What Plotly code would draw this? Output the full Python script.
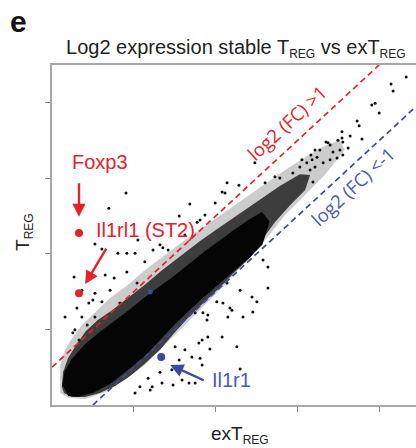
import plotly.graph_objects as go

# ---------------- data (log2 expression, exTreg on x, Treg on y) ----------------
# solid core of the gene cloud (outline)
core_x = [2.27, 2.32, 2.49, 2.81, 3.17, 3.54, 3.91, 4.27, 4.64, 5.01, 5.37, 5.74, 6.11, 6.47, 6.84,
          7.13, 7.30, 7.13, 6.84, 6.47, 6.11, 5.74, 5.37, 5.01, 4.64, 4.27, 3.83, 3.42, 3.00, 2.64, 2.39]
core_y = [2.50, 2.87, 3.19, 3.59, 3.91, 4.20, 4.51, 4.83, 5.12, 5.41, 5.73, 6.05, 6.34, 6.63, 6.90,
          7.08, 6.85, 6.26, 5.94, 5.60, 5.26, 4.91, 4.54, 4.17, 3.75, 3.32, 2.93, 2.58, 2.34, 2.24, 2.26]

# dense speckled halo of the cloud (outline)
halo_x = [2.24, 2.27, 2.39, 2.59, 2.83, 3.12, 3.47, 3.86, 4.27, 4.69, 5.13, 5.62, 6.11, 6.60, 7.09,
          7.57, 8.06, 8.31, 8.19, 7.82, 7.45, 7.13, 6.84, 6.47, 6.11, 5.74, 5.37, 5.01, 4.64, 4.27,
          3.91, 3.54, 3.17, 2.81, 2.49, 2.29]
halo_y = [2.48, 2.87, 3.24, 3.59, 3.96, 4.25, 4.51, 4.83, 5.18, 5.57, 5.94, 6.34, 6.71, 7.08, 7.45,
          7.80, 8.11, 8.09, 7.69, 7.29, 6.84, 6.37, 5.89, 5.52, 5.12, 4.75, 4.36, 3.93, 3.46, 3.09,
          2.77, 2.50, 2.32, 2.21, 2.21, 2.32]

# sparse outer fringe of the cloud (outline)
fringe_x = [2.20, 2.20, 2.32, 2.49, 2.73, 3.05, 3.42, 3.86, 4.27, 4.76, 5.25, 5.74, 6.23, 6.72, 7.21,
            7.70, 8.19, 8.67, 9.04, 9.16, 8.67, 8.19, 7.70, 7.21, 6.72, 6.23, 5.74, 5.25, 4.76, 4.27,
            3.78, 3.30, 2.81, 2.39, 2.20]
fringe_y = [2.53, 3.06, 3.46, 3.77, 4.12, 4.46, 4.83, 5.18, 5.57, 5.97, 6.37, 6.74, 7.11, 7.48, 7.85,
            8.22, 8.56, 8.86, 9.01, 8.75, 8.09, 7.56, 7.03, 6.37, 5.79, 5.18, 4.65, 4.12, 3.59, 3.06,
            2.66, 2.34, 2.16, 2.19, 2.32]

# individual scattered genes
gene_x = [3.81, 3.39, 5.37, 5.11, 3.05, 3.22, 3.61, 3.83, 4.03, 4.47, 4.64, 4.84, 4.10, 2.54, 2.90,
          3.30, 3.52, 2.73, 3.05, 3.22, 2.90, 2.61, 2.73, 3.05, 2.86, 2.56, 2.66, 3.83, 4.08, 2.32,
          5.62, 5.74, 5.55, 6.23, 6.28, 6.57, 5.99, 6.16, 6.96, 4.71, 3.00, 3.66, 2.51, 3.42, 4.27,
          5.25,
          4.69, 4.93, 5.35, 5.50, 4.03, 4.45, 5.11, 5.25, 5.42, 5.01, 5.59, 6.89, 6.67, 6.35, 6.30,
          6.18, 6.03, 5.81, 5.69, 5.79, 6.52, 6.16, 5.81, 5.86, 5.67, 5.67, 6.60, 5.62, 4.96, 5.18,
          4.15, 4.35, 7.28, 7.01, 6.91, 6.40, 6.60, 6.28, 5.50, 7.16, 7.28, 4.40, 4.64,
          10.66, 10.29, 10.34, 9.90, 9.82, 10.00, 9.46, 9.51, 9.09, 9.09, 8.99, 9.11, 9.58, 9.24,
          8.75, 8.70, 8.87, 8.97, 9.11, 8.55, 8.48, 8.36, 8.43, 8.63, 8.80, 8.23, 8.11, 8.06, 8.31,
          7.89, 8.43, 7.45, 7.57, 8.38, 8.33, 9.29, 9.04, 8.80, 7.21]
gene_y = [7.61, 7.21, 7.32, 7.00, 6.26, 6.13, 6.02, 6.02, 6.02, 6.10, 6.24, 6.10, 6.37, 5.39, 5.39,
          5.44, 5.36, 5.04, 4.96, 4.73, 4.70, 4.57, 4.33, 4.33, 4.12, 3.99, 3.72, 5.52, 5.23, 4.33,
          6.90, 7.03, 6.84, 7.61, 7.88, 7.82, 7.35, 7.64, 8.41, 6.16, 4.78, 4.70, 3.91, 5.04, 5.79,
          6.50,
          2.58, 2.93, 2.58, 2.58, 2.32, 2.48, 3.19, 3.46, 3.27, 3.54, 3.64, 4.86, 4.33, 4.57, 4.33,
          4.70, 4.73, 4.38, 4.44, 4.25, 3.54, 3.80, 3.80, 3.48, 3.72, 3.06, 2.95, 3.24, 2.53, 2.66,
          2.48, 2.71, 5.10, 4.73, 4.46, 4.51, 5.04, 5.23, 4.44, 5.84, 5.65, 2.40, 2.87,
          10.68, 10.50, 10.31, 9.99, 9.94, 9.73, 9.52, 9.39, 9.23, 9.07, 9.01, 8.96, 9.04, 8.80,
          8.94, 8.96, 8.70, 8.54, 8.62, 8.75, 8.56, 8.49, 8.30, 8.41, 8.49, 8.41, 8.49, 8.30, 8.22,
          8.14, 8.75, 8.04, 8.01, 7.90, 8.62, 9.12, 8.75, 8.88, 7.88]

# highlighted genes
hl_names = ["Foxp3", "Il1rl1 (ST2)", "Il1r1"]
hl_x = [2.66, 2.66, 4.67]
hl_y = [6.55, 4.96, 3.27]
extra_blue_x = [4.40]
extra_blue_y = [4.99]

# fold-change threshold lines: log2(FC) = +1 and -1
up_x, up_y = [2.0, 10.0], [3.0, 11.0]
dn_x, dn_y = [3.0, 10.9], [2.0, 9.9]

tick_vals = [4, 6, 8, 10]

RED = "#e5222a"
BLUE = "#3b4aa0"
BLUE_TXT = "#4b5bab"

fig = go.Figure()
fig.add_trace(go.Scatter(x=fringe_x, y=fringe_y, mode="lines", fill="toself",
                         fillcolor="rgba(0,0,0,0.2)", line=dict(width=0), hoverinfo="skip"))
fig.add_trace(go.Scatter(x=halo_x, y=halo_y, mode="lines", fill="toself",
                         fillcolor="rgba(0,0,0,0.7)", line=dict(width=0), hoverinfo="skip"))
fig.add_trace(go.Scatter(x=core_x, y=core_y, mode="lines", fill="toself",
                         fillcolor="#050505", line=dict(width=1.5, color="#050505"), hoverinfo="skip"))
fig.add_trace(go.Scatter(x=gene_x, y=gene_y, mode="markers",
                         marker=dict(size=3, color="#111111"), hoverinfo="skip"))
fig.add_trace(go.Scatter(x=up_x, y=up_y, mode="lines",
                         line=dict(color=RED, width=1.7, dash="6px,4px")))
fig.add_trace(go.Scatter(x=dn_x, y=dn_y, mode="lines",
                         line=dict(color=BLUE, width=1.7, dash="6px,4px")))
fig.add_trace(go.Scatter(x=extra_blue_x, y=extra_blue_y, mode="markers",
                         marker=dict(size=5, color=BLUE)))
fig.add_trace(go.Scatter(x=hl_x, y=hl_y, mode="markers",
                         marker=dict(size=8, color=[RED, RED, BLUE])))

ann = []
# arrows (text-less annotations pointing at highlighted genes)
ann.append(dict(x=hl_x[0], y=6.98, ax=0, ay=-35, text="", showarrow=True,
                arrowhead=2, arrowsize=1.1, arrowwidth=2.4, arrowcolor=RED))
ann.append(dict(x=2.81, y=5.20, ax=22, ay=-37, text="", showarrow=True,
                arrowhead=2, arrowsize=1.1, arrowwidth=2.4, arrowcolor=RED))
ann.append(dict(x=4.89, y=3.06, ax=35, ay=16, text="", showarrow=True,
                arrowhead=2, arrowsize=1.1, arrowwidth=2.4, arrowcolor=BLUE))
# gene labels
lab_font = dict(family="Liberation Sans, Arial", size=20)
ann.append(dict(x=3.17, y=8.43, text=hl_names[0], showarrow=False, font=dict(lab_font, color=RED)))
ann.append(dict(x=4.29, y=6.63, text=hl_names[1], showarrow=False, font=dict(lab_font, color=RED)))
ann.append(dict(x=6.38, y=2.66, text=hl_names[2], showarrow=False, font=dict(lab_font, color=BLUE_TXT)))
# threshold labels
fc_font = dict(family="Open Sans, Noto Sans", size=18.5)
ann.append(dict(x=7.74, y=9.48, text="log2 (FC) >1", showarrow=False, textangle=-42.7,
                font=dict(fc_font, color=RED)))
ann.append(dict(x=9.34, y=7.79, text="log2 (FC) <-1", showarrow=False, textangle=-42.7,
                font=dict(fc_font, color=BLUE_TXT)))
# axis titles
ax_font = dict(family="Liberation Sans, Arial", size=19, color="#222222")
ann.append(dict(xref="paper", yref="paper", x=0.516, y=-0.088, xanchor="center", yanchor="middle",
                showarrow=False, text='exT<sub><span style="font-size:12px">REG</span></sub>', font=ax_font))
ann.append(dict(xref="paper", yref="paper", x=-0.077, y=0.509, xanchor="center", yanchor="middle",
                showarrow=False, textangle=-90,
                text='T<sub><span style="font-size:12px">REG</span></sub>', font=ax_font))
# panel letter
ann.append(dict(xref="paper", yref="paper", x=-0.093, y=1.129, xanchor="center", yanchor="middle",
                showarrow=False, text="<b>e</b>",
                font=dict(family="Liberation Sans, Arial", size=30, color="#111111")))

fig.update_layout(
    width=416, height=448,
    margin=dict(l=52, r=0, t=65, b=43),
    paper_bgcolor="white", plot_bgcolor="white",
    showlegend=False,
    title=dict(text='Log2 expression stable T<sub><span style="font-size:12px">REG</span></sub> vs exT<sub><span style="font-size:12px">REG</span></sub>',
               x=0.505, xref="paper", xanchor="center", y=0.895, yref="container", yanchor="middle",
               font=dict(family="Liberation Sans, Arial", size=20, color="#222222")),
    annotations=ann,
    xaxis=dict(range=[2.0, 10.9], showgrid=False, zeroline=False, showline=True, mirror=True,
               linecolor="#a6a6a6", linewidth=1.5, ticks="outside", ticklen=5, tickwidth=1.2,
               tickcolor="#8a8a8a", tickvals=tick_vals, showticklabels=False),
    yaxis=dict(range=[2.0, 11.0], showgrid=False, zeroline=False, showline=True,
               linecolor="#a6a6a6", linewidth=1.5, ticks="outside", ticklen=5, tickwidth=1.2,
               tickcolor="#8a8a8a", tickvals=tick_vals, showticklabels=False),
)

fig.write_html("out.html")
